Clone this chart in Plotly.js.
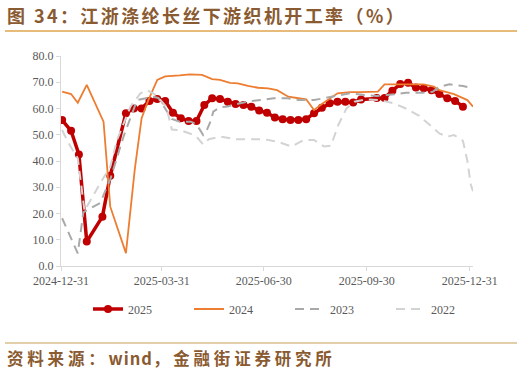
<!DOCTYPE html>
<html>
<head>
<meta charset="utf-8">
<script src="https://cdn.plot.ly/plotly-3.0.1.min.js"></script>
<style>
html,body{margin:0;padding:0;background:#fff;}
#chart{width:522px;height:376px;}
</style>
</head>
<body>
<div id="chart"></div>
<script>
// ---- Data (all years mapped onto the 2025 calendar) ----
const dates2025 = ["2025-01-01","2025-01-09","2025-01-16","2025-01-23","2025-02-06","2025-02-13","2025-02-27","2025-03-06","2025-03-13","2025-03-20","2025-03-27","2025-04-03","2025-04-10","2025-04-17","2025-04-24","2025-05-01","2025-05-08","2025-05-15","2025-05-22","2025-05-29","2025-06-05","2025-06-12","2025-06-19","2025-06-26","2025-07-03","2025-07-10","2025-07-17","2025-07-24","2025-07-31","2025-08-07","2025-08-14","2025-08-21","2025-08-28","2025-09-04","2025-09-11","2025-09-18","2025-09-25","2025-10-09","2025-10-16","2025-10-23","2025-10-30","2025-11-06","2025-11-13","2025-11-20","2025-11-27","2025-12-04","2025-12-11","2025-12-18","2025-12-25"];
const vals2025 = [55.6,51.5,42.5,9.3,18.8,34.4,58.2,60.0,60.0,62.9,63.6,62.9,58.4,56.3,55.2,55.2,61.3,63.9,63.6,62.6,61.7,61.3,60.7,59.2,58.4,56.6,55.9,55.6,55.6,55.9,58.2,60.3,62.0,62.6,62.6,62.3,63.4,64.0,64.0,66.8,69.3,69.8,68.0,67.7,67.0,65.5,63.9,62.9,60.7];

const dates2024 = ["2025-01-01","2025-01-09","2025-01-15","2025-01-23","2025-02-07","2025-02-13","2025-02-27","2025-03-07","2025-03-13","2025-03-19","2025-03-27","2025-04-03","2025-04-16","2025-04-25","2025-05-06","2025-05-15","2025-05-22","2025-05-31","2025-06-07","2025-06-16","2025-06-25","2025-07-04","2025-07-12","2025-07-22","2025-07-31","2025-08-07","2025-08-14","2025-08-22","2025-09-04","2025-09-15","2025-09-24","2025-10-10","2025-10-16","2025-11-04","2025-11-20","2025-11-29","2025-12-04","2025-12-17","2025-12-29","2026-01-03"];
const vals2024 = [66.4,65.5,62.2,69.0,55.0,22.6,4.9,37.2,56.3,63.2,70.9,72.2,72.6,73.0,72.8,71.2,70.9,69.8,69.6,68.6,67.9,67.7,67.0,64.5,63.9,63.5,59.4,62.0,65.8,66.2,66.2,66.4,69.2,69.3,69.2,68.3,67.0,65.5,63.2,60.7];

const dates2023 = ["2025-01-01","2025-01-15","2025-01-20","2025-02-04","2025-02-13","2025-02-25","2025-03-09","2025-03-23","2025-03-28","2025-04-05","2025-04-09","2025-04-16","2025-04-26","2025-05-01","2025-05-05","2025-05-07","2025-05-10","2025-05-14","2025-05-16","2025-05-22","2025-05-29","2025-06-09","2025-06-15","2025-06-27","2025-07-09","2025-07-21","2025-08-01","2025-08-14","2025-08-23","2025-08-30","2025-09-06","2025-09-15","2025-09-28","2025-10-09","2025-10-18","2025-10-28","2025-11-04","2025-11-19","2025-11-28","2025-12-04","2025-12-13","2025-12-25","2026-01-03"];
const vals2023 = [18.2,4.8,20.5,24.0,33.0,49.5,63.2,64.5,64.0,59.0,56.0,55.0,55.0,54.0,51.5,49.9,51.5,55.5,58.8,60.5,60.8,62.0,62.6,63.2,63.9,63.9,63.2,63.2,63.9,64.5,65.1,65.8,65.1,64.8,65.1,65.8,66.0,66.0,66.4,68.3,69.2,68.6,67.7];

const dates2022 = ["2025-01-01","2025-01-06","2025-01-15","2025-01-21","2025-02-04","2025-02-13","2025-02-19","2025-03-03","2025-03-12","2025-03-18","2025-03-26","2025-04-04","2025-04-09","2025-04-16","2025-04-25","2025-05-01","2025-05-07","2025-05-12","2025-05-22","2025-06-06","2025-06-30","2025-07-12","2025-07-25","2025-08-05","2025-08-14","2025-08-23","2025-08-29","2025-09-05","2025-09-12","2025-09-19","2025-09-30","2025-10-12","2025-10-24","2025-11-04","2025-11-16","2025-11-25","2025-12-04","2025-12-11","2025-12-17","2025-12-25","2025-12-29","2026-01-01","2026-01-03"];
const vals2022 = [51.8,47.4,41.0,21.0,31.5,37.8,48.0,60.7,65.8,67.0,65.1,60.7,52.0,51.8,50.5,49.3,46.3,48.3,49.3,48.3,48.3,47.4,45.5,48.0,48.0,45.5,45.8,54.0,60.0,62.6,63.5,63.2,62.0,60.0,57.2,54.0,50.5,49.3,49.9,47.7,40.0,31.0,28.5];

const tickDates = ["2024-12-31","2025-03-31","2025-06-30","2025-09-30","2025-12-31"];
const tickLabels = ["2024-12-31","2025-03-31","2025-06-30","2025-09-30","2025-12-31"];
const seriesNames = ["2025","2024","2023","2022"];

const titleText = "图 34：江浙涤纶长丝下游织机开工率（%）";
const sourceParts = ["资料来源：", "wind", "，金融街证券研究所"];

// ---- Styles ----
const serif = '"Times New Roman", "Liberation Serif", serif';
const cjk = '"Noto Sans CJK SC", "Noto Sans", sans-serif';
const brown = '#8a5a30';
const sp = (t, ls) => '<span style="letter-spacing:' + ls + 'px">' + t + '</span>';

const traces = [
  {x: dates2025, y: vals2025, name: seriesNames[0], type: 'scatter', mode: 'lines+markers',
   line: {color: '#c00000', width: 3.5}, marker: {color: '#c00000', size: 8, symbol: 'circle'}},
  {x: dates2024, y: vals2024, name: seriesNames[1], type: 'scatter', mode: 'lines',
   line: {color: '#ed7d31', width: 1.8}},
  {x: dates2023, y: vals2023, name: seriesNames[2], type: 'scatter', mode: 'lines',
   line: {color: '#a9a9a9', width: 2, dash: '9px,6px'}},
  {x: dates2022, y: vals2022, name: seriesNames[3], type: 'scatter', mode: 'lines',
   line: {color: '#d3d3d3', width: 2, dash: '9px,6px'}}
];

const W = 412, H = 210;
const px = v => (v - 61) / W;
const py = v => (266 - v) / H;

const layout = {
  width: 522, height: 376,
  margin: {l: 61, r: 49, t: 56, b: 110, pad: 0},
  paper_bgcolor: '#fff', plot_bgcolor: '#fff',
  showlegend: true,
  font: {family: serif, size: 12, color: '#595959'},
  xaxis: {
    type: 'date', range: ['2024-12-31', '2026-01-03'],
    tickvals: tickDates, ticktext: tickLabels,
    showgrid: false, zeroline: false,
    showline: true, linecolor: '#d9d9d9', linewidth: 1,
    ticks: 'outside', ticklen: 4, tickcolor: '#d9d9d9',
    tickfont: {family: serif, size: 12, color: '#595959'}
  },
  yaxis: {
    range: [0, 80], dtick: 10, tickformat: '.1f',
    showgrid: false, zeroline: false,
    showline: true, linecolor: '#d9d9d9', linewidth: 1,
    ticks: 'outside', ticklen: 4, tickcolor: '#d9d9d9',
    tickfont: {family: serif, size: 12, color: '#595959'}
  },
  legend: {
    orientation: 'h', x: px(88), xanchor: 'left', y: py(309), yanchor: 'middle',
    font: {family: serif, size: 12, color: '#595959'},
    entrywidth: 56, entrywidthmode: 'pixels', traceorder: 'normal',
    bgcolor: 'rgba(0,0,0,0)'
  },
  shapes: [
    {type: 'line', xref: 'paper', yref: 'paper', x0: px(5), x1: px(517), y0: py(31), y1: py(31),
     line: {color: '#dfa54d', width: 1.5}},
    {type: 'line', xref: 'paper', yref: 'paper', x0: px(5), x1: px(517), y0: py(343), y1: py(343),
     line: {color: '#d9bf8c', width: 1.5}}
  ],
  annotations: [
    {text: '<b>' + sp(titleText, 2.4) + '</b>', xref: 'paper', yref: 'paper', x: px(5), y: py(15),
     xanchor: 'left', yanchor: 'middle', showarrow: false,
     font: {family: cjk, size: 18, color: brown}},
    {text: '<b>' + sp(sourceParts[0], 3.8) + sp(sourceParts[1], 1) + sp(sourceParts[2], 3.8) + '</b>',
     xref: 'paper', yref: 'paper', x: px(5), y: py(358),
     xanchor: 'left', yanchor: 'middle', showarrow: false,
     font: {family: cjk, size: 16.5, color: brown}}
  ]
};

Plotly.newPlot('chart', traces, layout, {displayModeBar: false, staticPlot: true});
</script>
</body>
</html>
